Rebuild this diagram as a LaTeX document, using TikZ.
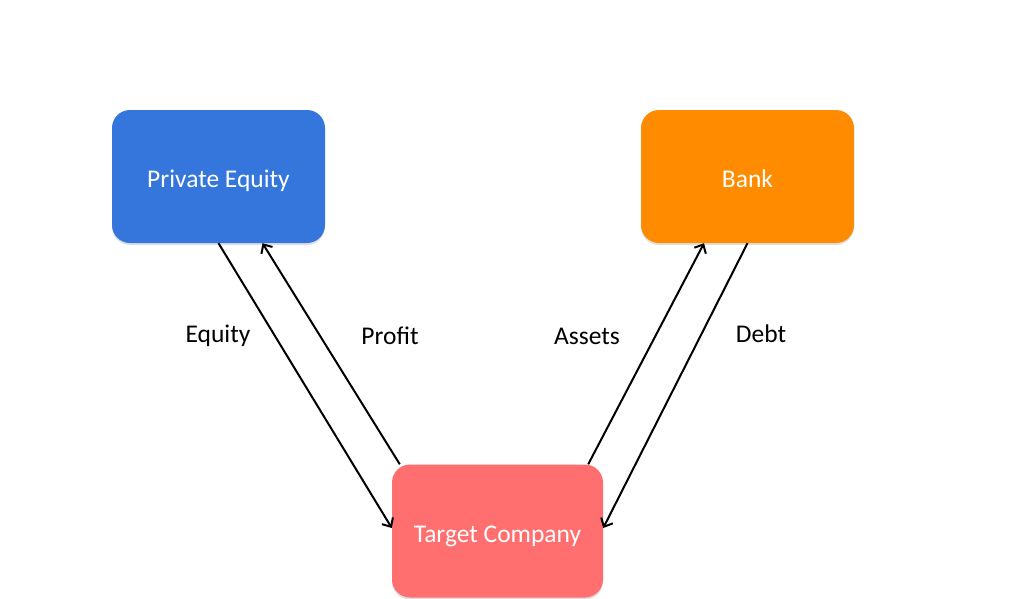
\documentclass[tikz,border=0pt]{standalone}
\usepackage{fontspec}
\setmainfont{Carlito}
\usetikzlibrary{arrows.meta,shadows}
\definecolor{peblue}{RGB}{52,118,220}
\definecolor{bankorange}{RGB}{255,140,0}
\definecolor{tcred}{RGB}{255,111,111}
\begin{document}
\begin{tikzpicture}[x=1pt,y=-1pt,
  box/.style={rounded corners=18pt, minimum width=213pt, minimum height=133pt, inner sep=0pt,
    text height=22pt, text depth=0pt,
    text=white, font=\fontsize{25.5}{28}\selectfont,
    drop shadow={opacity=0.25, shadow xshift=0pt, shadow yshift=-2pt}},
  conn/.style={line width=2pt, -{Straight Barb[length=7pt,width=13pt,line width=2pt]}},
  lbl/.style={font=\fontsize{25.5}{28}\selectfont, text=black}]
\useasboundingbox (0,0) rectangle (1020,598);
\node[box, fill=peblue] (pe) at (218.5,176.5) {Private Equity};
\node[box, fill=bankorange] (bank) at (747.5,176.5) {Bank};
\node[box, fill=tcred, minimum width=211pt] (tc) at (497.5,531) {Target Company};
\draw[conn] (pe.south) -- ([yshift=3pt]tc.west);
\draw[conn] ([xshift=8pt]tc.north west) -- ([xshift=44pt]pe.south);
\draw[conn] ([xshift=-15pt]tc.north east) -- ([xshift=-43.5pt]bank.south);
\draw[conn] (bank.south) -- ([yshift=3pt]tc.east);
\node[lbl] (l1) at (218,336) {Equity};
\node[lbl] (l2) at (390,336) {Profit};
\node[lbl] (l3) at (587,336) {Assets};
\node[lbl] (l4) at (761,334) {Debt};
\end{tikzpicture}
\end{document}
